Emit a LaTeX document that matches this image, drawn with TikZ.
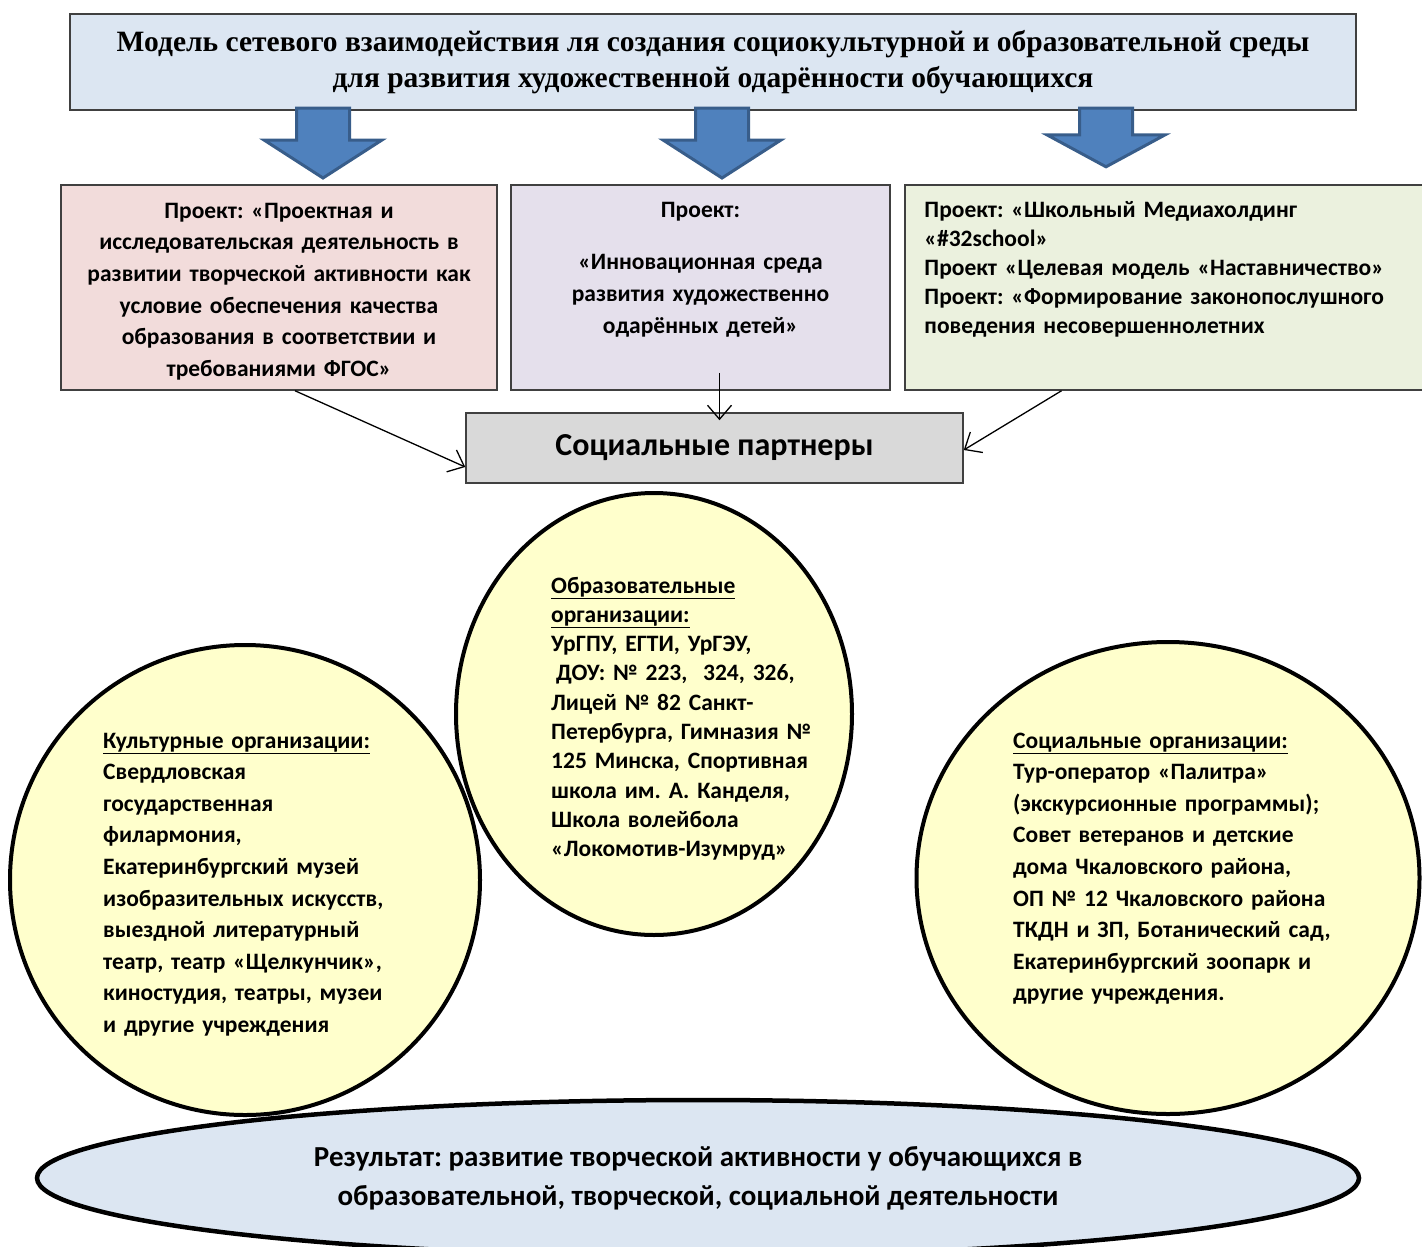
\documentclass[tikz,border=0pt]{standalone}
\usepackage{fontspec}
\setmainfont{Carlito}
\newfontfamily\titlefont{Liberation Serif}
\usepackage{tikz}
\usetikzlibrary{arrows.meta,shapes.geometric}
\frenchspacing
\definecolor{titleblue}{HTML}{DCE6F2}
\definecolor{arrowblue}{HTML}{4F81BD}
\definecolor{arrowline}{HTML}{385D8A}
\definecolor{projpink}{HTML}{F2DCDB}
\definecolor{projlilac}{HTML}{E5E0EC}
\definecolor{projgreen}{HTML}{EBF1DE}
\definecolor{partgray}{HTML}{D9D9D9}
\definecolor{orgyellow}{HTML}{FFFFCC}
\tikzstyle{box}=[draw=black!75,line width=1.5pt,rectangle,inner sep=0pt]
\tikzstyle{org}=[draw=black,line width=4pt,fill=orgyellow,ellipse,inner sep=0pt]
\tikzstyle{txt}=[inner sep=0pt,font=\fontsize{23.5}{31.6}\selectfont\bfseries,align=left]
\tikzstyle{edge}=[draw,line width=1.3pt,-{Straight Barb[length=14pt,width=24pt]}]
\tikzset{downarrow/.pic={\draw[fill=arrowblue,draw=arrowline,line width=3pt,line join=miter]
  (-26.5,0) -- (26.5,0) -- (26.5,32) -- (59,32) -- (0,70) -- (-59,32) -- (-26.5,32) -- cycle;}}

\begin{document}
\begin{tikzpicture}[x=1pt,y=-1pt]
      \useasboundingbox (0,0) rectangle (1422,1247);
      \node[box,fill=titleblue,minimum width=1286pt,minimum height=96pt,align=center,
        font=\titlefont\fontsize{29.5}{36}\selectfont\bfseries] (model) at (713,62)
        {Модель сетевого взаимодействия ля создания социокультурной и образовательной среды\\
         для развития художественной одарённости обучающихся};
      \pic (arrL) at (323,108) {downarrow};
      \pic (arrM) at (722,108) {downarrow};
      \pic[yscale=0.84] (arrR) at (1106,108) {downarrow};
      \node[box,fill=projpink,minimum width=436pt,minimum height=205pt] (pink) at (279,287.5) {};
      \node[txt,text width=436pt,align=center,anchor=base] (pinktxt) at ([yshift=-34pt]pink.north)
        {Проект: «Проектная и\\исследовательская деятельность в\\развитии творческой активности как\\
         условие обеспечения качества\\образования в соответствии и\\требованиями ФГОС»};
      \node[box,fill=projlilac,minimum width=379pt,minimum height=205pt] (lilac) at (700.5,287.5) {};
      \node[txt,text width=379pt,align=center,anchor=base] (lilactxt) at ([yshift=-33pt]lilac.north)
        {Проект:\\[21pt]«Инновационная среда\\развития художественно\\одарённых детей»};
      \node[box,fill=projgreen,minimum width=535pt,minimum height=205pt] (green) at (1172.5,287.5) {};
      \node[txt,text width=500pt,anchor=base west,font=\fontsize{23.5}{29}\selectfont\bfseries] (greentxt)
        at ([xshift=20pt,yshift=-33pt]green.north west)
        {Проект: «Школьный Медиахолдинг\\«\#32school»\\Проект «Целевая модель «Наставничество»\\
         Проект: «Формирование законопослушного\\поведения несовершеннолетних};
      \node[box,fill=partgray,minimum width=497pt,minimum height=70pt,font=\fontsize{32}{38}\selectfont\bfseries]
        (partners) at (714.5,448) {Социальные партнеры};
      \draw[edge] ([xshift=16pt]pink.south) to ([yshift=-19pt]partners.west);
      \draw[edge] ([xshift=19pt,yshift=18pt]lilac.south) to ([xshift=5pt,yshift=-8pt]partners.north);
      \draw[edge] ([xshift=-111pt]green.south) to ([yshift=-2pt]partners.east);
      \node[org,fill=titleblue,line width=4.5pt,minimum width=1322pt,minimum height=156pt,align=center,
        font=\fontsize{29}{39}\selectfont\bfseries] (result) at (698,1178)
        {Результат: развитие творческой активности у обучающихся в\\образовательной, творческой, социальной деятельности};
      \node[org,minimum width=396pt,minimum height=442pt] (edu) at (654,714) {};
      \node[org,minimum width=470pt,minimum height=470pt] (cult) at (245,880) {};
      \node[org,minimum width=503pt,minimum height=472pt] (soc) at (1168,878) {};
      \node[txt,text width=300pt,anchor=base west,font=\fontsize{23.5}{29.3}\selectfont\bfseries] (edutxt) at (551,593)
        {\underline{Образовательные}\\\underline{организации:}\\УрГПУ, ЕГТИ, УрГЭУ,\\\hspace*{5pt}ДОУ: №~223,~~324, 326,\\
         Лицей №~82 Санкт-\\Петербурга, Гимназия №\\125 Минска, Спортивная\\школа им. А. Канделя,\\
         Школа волейбола\\«Локомотив-Изумруд»};
      \node[txt,text width=320pt,anchor=base west] (culttxt) at (103,748)
        {\underline{Культурные организации:}\\Свердловская\\государственная\\филармония,\\Екатеринбургский музей\\
         изобразительных искусств,\\выездной литературный\\театр, театр «Щелкунчик»,\\киностудия, театры, музеи\\
         и другие учреждения};
      \node[txt,text width=340pt,anchor=base west] (soctxt) at (1013,748)
        {\underline{Социальные организации:}\\Тур-оператор «Палитра»\\(экскурсионные программы);\\Совет ветеранов и детские\\
         дома Чкаловского района,\\ОП №~12 Чкаловского района\\ТКДН и ЗП, Ботанический сад,\\Екатеринбургский зоопарк и\\
         другие учреждения.};
    \end{tikzpicture}
\end{document}
